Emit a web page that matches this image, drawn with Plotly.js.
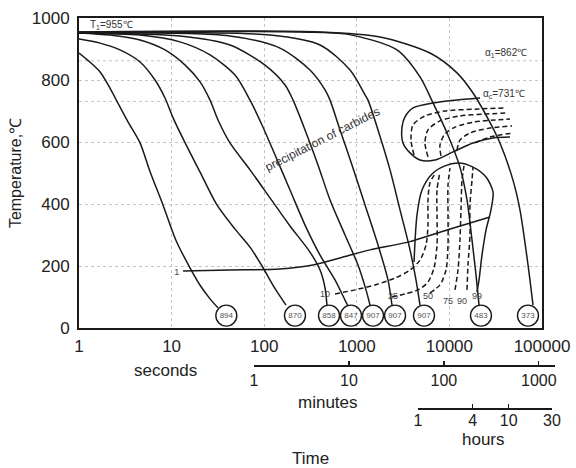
<!DOCTYPE html>
<html><head><meta charset="utf-8">
<script src="https://cdn.plot.ly/plotly-3.0.1.min.js"></script>
<style>html,body{margin:0;padding:0;background:#fff}</style>
</head><body><div id="chart" style="width:576px;height:468px"></div>
<script>
// ---- cooling curves (time s, temperature C) ----
const c1_t = [1,1.31,1.69,2.16,2.77,3.38,4.56,5.84,8.07,11.1,15.8,20.3,26,31.7];
const c1_T = [887,858,826,774,713,665,597,505,397,284,194,138,94,65];
const c2_t = [1,1.69,2.77,4.56,6.62,8.49,10.4,14,20.3,30.9,48.4,70.3,94.7,128,172];
const c2_T = [932,919,897,858,800,742,677,597,503,397,319,261,200,132,74];
const c3_t = [1,2.16,4.56,8.49,14,20.3,26,31.7,42.7,70.3,116,190,312,401,454,476];
const c3_T = [952,945,929,897,848,794,735,671,597,510,419,329,245,187,129,74];
const c4_t = [1,4.56,12.3,26,48.4,70.3,94.7,131,190,276,401,582,746,803];
const c4_T = [952,945,923,881,816,735,655,558,445,332,235,155,90,71];
const c5_t = [1,12.3,42.7,102,168,205,276,381,514,746,1030,1257,1389];
const c5_T = [952,942,913,848,784,735,639,526,413,300,203,123,74];
const c6_t = [1,42.7,148,312,454,514,659,887,1227,1694,2172,2399];
const c6_T = [952,942,903,832,768,735,639,526,397,268,155,74];
const c7_t = [1,116,401,845,1227,1321,1694,2284,2929,3756,4357,4812];
const c7_T = [952,945,913,832,752,735,639,510,381,252,155,74];
const c8_t = [1,244,784,2716,4812,6653,9420,13000,15490,17540,19380,20890];
const c8_T = [955,955,948,897,810,726,629,519,413,284,171,74];
const c9_t = [1,401,1782,6170,12080,17990,25470,35160,48600,57810,67140,74130,79980];
const c9_T = [955,955,939,887,823,758,681,597,477,381,252,155,74];

// ---- hardness circles ----
const hv_t = [39,215,501,865,1496,2588,5318,21930,70600];
const hv_T = [40,40,40,40,40,40,40,40,40];
const hv_lbl = ['894','870','858','847','907','907','907','483','373'];

// ---- martensite start / 1% line ----
const ms_t = [13.3,42.7,148,336,659,1389,3573,9420,27420];
const ms_T = [184,187,190,203,226,252,277,316,358];

// ---- carbide precipitation region ----
const up_t = [21390,11490,6653,4045,3316,3076,3155,3756,4812,6985,10930,17990,29570,45090];
const up_T = [742,735,726,710,681,648,597,565,542,542,568,597,613,616];
const d1_t = [4150,3850,4045,5450,8960,18900,39800];
const d1_T = [558,606,655,684,700,706,710];
const d2_t = [5870,5450,5870,7910,13000,24230,42960];
const d2_T = [552,597,639,668,684,690,694];
const d3_t = [8110,7910,8960,11490,18900,31050,45090];
const d3_T = [555,590,626,648,665,671,674];
const d4_t = [12080,13000,16680,27420,47430];
const d4_T = [574,606,629,645,652];
const d5_t = [18900,27420,48600];
const d5_T = [597,616,629];

// ---- bainite region ----
const lo_t = [4150,4470,5060,6490,8960,12380,17990,24850,29570,28130,24850,22490,20890,19860];
const lo_T = [213,365,445,497,523,532,519,487,439,381,316,235,155,116];
const p10_t = [582,957,1574,2588,3756,4812,5590,5870,5870,6170,6985];
const p10_T = [110,123,139,161,187,219,268,332,413,468,497];
const p25_t = [2399,3316,4580,5870,6820,7350,7350,7350,7910];
const p25_T = [100,110,123,148,194,268,365,445,503];
const p50_t = [6170,7910,9190,9660,9660,9660,10140];
const p50_T = [113,139,187,268,365,461,516];
const p75_t = [11490,12380,13000,13340,13680,14380];
const p75_T = [123,187,284,381,477,523];
const p90_t = [15490,15880,16680,16680,17540,17990];
const p90_T = [123,203,300,397,477,519];

// ---- percent labels ----
const pct_t = [11.4,454,2460,5870,9660,13680,19860];
const pct_T = [177,106,100,100,84,84,100];
const pct_lbl = ['1','10','25','50','75','90','99'];

const sec_ticks = [1,10,100,1000,10000,100000];
const min_ticks = [1,10,100,1000];
const hr_ticks = [1,4,10,30];

const FONT = 'Liberation Sans, Arial, sans-serif';
const traces = [];
function ln(t, T, dash) {
  traces.push({x:t, y:T, type:'scatter', mode:'lines', hoverinfo:'skip',
    line:{color:'#1a1a1a', width:1.5, dash: dash || 'solid', shape:'spline', smoothing:0.8}});
}
[[c1_t,c1_T],[c2_t,c2_T],[c3_t,c3_T],[c4_t,c4_T],[c5_t,c5_T],[c6_t,c6_T],[c7_t,c7_T],[c8_t,c8_T],[c9_t,c9_T]]
  .forEach(p => ln(p[0], p[1]));
ln(ms_t, ms_T);
ln(up_t, up_T);
ln(lo_t, lo_T);
[[d1_t,d1_T],[d2_t,d2_T],[d3_t,d3_T],[d4_t,d4_T],[d5_t,d5_T],
 [p10_t,p10_T],[p25_t,p25_T],[p50_t,p50_T],[p75_t,p75_T],[p90_t,p90_T]]
  .forEach(p => ln(p[0], p[1], '5px,3px'));

traces.push({x:hv_t, y:hv_T, type:'scatter', mode:'markers+text', text:hv_lbl,
  textposition:'middle center', textfont:{size:8, color:'#555', family:FONT},
  marker:{symbol:'circle-open', size:21, color:'#1a1a1a', line:{width:1.4, color:'#1a1a1a'}},
  hoverinfo:'skip', cliponaxis:false});
traces.push({x:pct_t, y:pct_T, type:'scatter', mode:'text', text:pct_lbl,
  textposition:'middle center', textfont:{size:9, color:'#444', family:FONT}, hoverinfo:'skip'});
// carriers for the minutes / hours scales (no visible marks)
traces.push({x:min_ticks, y:[0,0,0,0], xaxis:'x2', yaxis:'y2', type:'scatter', mode:'markers',
  marker:{opacity:0, size:1}, hoverinfo:'skip', cliponaxis:true});
traces.push({x:hr_ticks, y:[0,0,0,0], xaxis:'x3', yaxis:'y3', type:'scatter', mode:'markers',
  marker:{opacity:0, size:1}, hoverinfo:'skip', cliponaxis:true});

const W = 481, H = 445; // plot area size (l=79, r=16, t=18, b=5)
const px = v => (v - 79) / W;
const py = v => (463 - v) / H;

function note(x, y, text, size) {
  return {xref:'paper', yref:'paper', x:px(x), y:py(y), xanchor:'center', yanchor:'middle',
    text:text, showarrow:false, font:{size:size}};
}

const layout = {
  width:576, height:468,
  margin:{l:79, r:16, t:18, b:5},
  paper_bgcolor:'#fff', plot_bgcolor:'#fff',
  showlegend:false,
  font:{family:FONT, color:'#222', size:17},
  xaxis:{type:'log', range:[0,5], domain:[0, px(542)], anchor:'y',
    tickvals:sec_ticks, ticktext:sec_ticks.map(String), ticks:'', ticklabelstandoff:2,
    showgrid:true, gridcolor:'#c4c4c4', griddash:'dot', gridwidth:1,
    showline:true, linecolor:'#1a1a1a', linewidth:2, mirror:true, zeroline:false},
  yaxis:{range:[0,1000], domain:[py(328), 1], anchor:'x',
    tickvals:[0,200,400,600,800,1000], ticks:'', ticklabelstandoff:4,
    showgrid:true, gridcolor:'#c4c4c4', griddash:'dot', gridwidth:1,
    showline:true, linecolor:'#1a1a1a', linewidth:2, mirror:true, zeroline:false,
    title:{text:'Temperature,℃', font:{size:16}, standoff:6}},
  xaxis2:{type:'log', range:[0,3.17], domain:[px(254), px(555)], anchor:'y2', side:'bottom',
    tickvals:min_ticks, ticktext:min_ticks.map(String), ticks:'inside', ticklen:4, tickwidth:1.2,
    tickcolor:'#1a1a1a', showgrid:false, showline:true, linecolor:'#1a1a1a', linewidth:1.5, zeroline:false,
    tickfont:{size:16}},
  yaxis2:{domain:[py(365), py(365)+0.02], anchor:'x2', visible:false, range:[0,1], fixedrange:true},
  xaxis3:{type:'log', range:[0,Math.log10(30)], domain:[px(418), px(552)], anchor:'y3', side:'bottom',
    tickvals:hr_ticks, ticktext:hr_ticks.map(String), ticks:'inside', ticklen:4, tickwidth:1.2,
    tickcolor:'#1a1a1a', showgrid:false, showline:true, linecolor:'#1a1a1a', linewidth:1.5, zeroline:false,
    tickfont:{size:16}, ticklabelstandoff:-3},
  yaxis3:{domain:[py(408), py(408)+0.02], anchor:'x3', visible:false, range:[0,1], fixedrange:true},
  shapes:[
    {type:'line', xref:'x domain', yref:'y', x0:0, x1:1, y0:862, y1:862, line:{color:'#c4c4c4', width:1, dash:'dot'}, layer:'below'},
    {type:'line', xref:'x domain', yref:'y', x0:0, x1:1, y0:731, y1:731, line:{color:'#c4c4c4', width:1, dash:'dot'}, layer:'below'}
  ],
  annotations:[
    {xref:'x', yref:'y', x:Math.log10(1.25), y:977, xanchor:'left', yanchor:'middle', text:'T<sub>1</sub>=955℃', showarrow:false, font:{size:10, color:'#333'}},
    {xref:'x', yref:'y', x:Math.log10(40800), y:887, xanchor:'center', yanchor:'middle', text:'α<sub>1</sub>=862℃', showarrow:false, font:{size:10, color:'#333'}},
    {xref:'x', yref:'y', x:Math.log10(38900), y:755, xanchor:'center', yanchor:'middle', text:'α<sub>c</sub>=731℃', showarrow:false, font:{size:10, color:'#333'}},
    {xref:'x', yref:'y', x:Math.log10(430), y:610, xanchor:'center', yanchor:'middle', text:'precipitation of carbides', textangle:-27, showarrow:false, font:{size:12, color:'#333'}},
    note(165, 370, 'seconds', 17),
    note(328, 402, 'minutes', 17),
    note(483, 439, 'hours', 17),
    note(310, 458, 'Time', 17)
  ]
};
Plotly.newPlot('chart', traces, layout, {displayModeBar:false, staticPlot:true});
</script></body></html>
